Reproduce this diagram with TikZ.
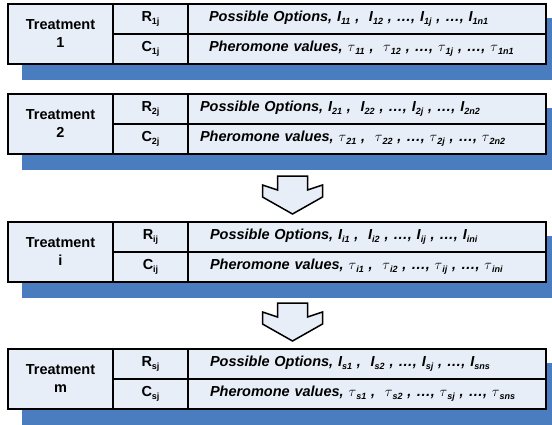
\documentclass[tikz,border=0pt]{standalone}
\usepackage{fontspec}
\setmainfont{Liberation Sans}
\usetikzlibrary{positioning}
\definecolor{cellfill}{RGB}{232,238,247}
\definecolor{shadowblue}{RGB}{74,125,192}
\newcommand{\idx}[1]{\raisebox{-.4ex}{\fontsize{9}{9}\selectfont#1}}
\newcommand{\tauv}[1]{$\tau$\idx{#1}}
\begin{document}
\begin{tikzpicture}[x=1pt,y=-1pt,font=\fontsize{14.5}{18}\selectfont\bfseries,line join=miter,
		cell/.style={draw,line width=1.5pt,fill=cellfill,anchor=north west,inner sep=0pt,outer sep=0pt,minimum height=30},
		row/.style={cell,minimum width=358,align=left,font=\fontsize{14.5}{18}\selectfont\bfseries\itshape},
		arrowbox/.style={draw,line width=1.5pt,fill=cellfill}]
	\useasboundingbox (0,0) rectangle (552,424);
	\foreach \lab/\ix/\ytop/\pad in {1/1/4/21,2/2/94/12,i/i/222/22,m/s/349/22}{
		\pgfmathsetmacro\tw{358-2*\pad}
		\fill[shadowblue] (22,\ytop+14) rectangle (552,\ytop+76);
		\node[cell,minimum width=105,minimum height=60,align=center] (t\ix) at (8,\ytop) {Treatment\\\lab};
		\node[cell,minimum width=75] (r\ix) at (t\ix.north east) {R\idx{\ix j}};
		\node[cell,minimum width=75] (c\ix) at (r\ix.south west) {C\idx{\ix j}};
		\node[row,inner xsep=\pad,text width=\tw pt] (o\ix) at (r\ix.north east)
			{\mbox{Possible Options, I\idx{\ix1} ,\ \ I\idx{\ix2} , \ldots, I\idx{\ix j} , \ldots, I\idx{\ix n\ix}}};
		\node[row,inner xsep=\pad,text width=\tw pt] (p\ix) at (c\ix.north east)
			{\mbox{Pheromone values, \tauv{\ix1} ,\ \ \tauv{\ix2} , \ldots, \tauv{\ix j} , \ldots, \tauv{\ix n\ix}}};
	}
	\foreach \ya in {176,303}
		\draw[arrowbox] (277.5,\ya) -- (307.5,\ya) -- (307.5,\ya+14) -- (322.5,\ya+9) -- (322.5,\ya+21) -- (292.5,\ya+38)
			-- (262.5,\ya+21) -- (262.5,\ya+9) -- (277.5,\ya+14) -- cycle;
\end{tikzpicture}
\end{document}
